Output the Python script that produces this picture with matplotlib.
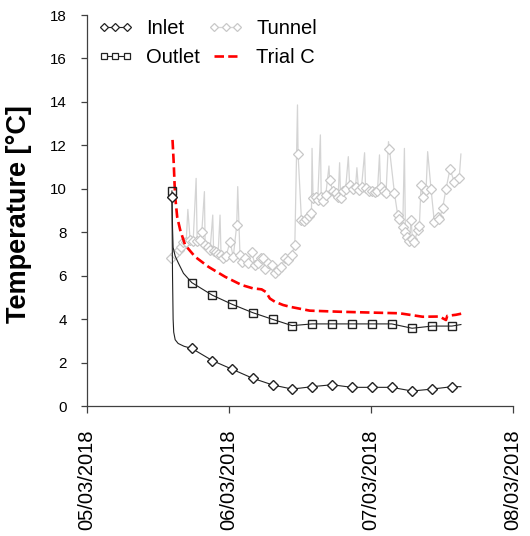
import numpy as np
import matplotlib
matplotlib.use("Agg")
import matplotlib.pyplot as plt
from matplotlib.lines import Line2D
from datetime import datetime, timedelta

plt.rcParams["font.family"] = ["Liberation Sans", "DejaVu Sans"]

START = datetime(2018, 3, 5)
x_ticks = ["05/03/2018", "06/03/2018", "07/03/2018", "08/03/2018"]

# Inlet sensor: hours after 05/03/2018 00:00 and temperature (°C)
inlet_hours = [14.35, 14.45, 14.55, 14.65, 14.9, 15.4, 16.4, 17.71, 21.19, 24.55,
               27.98, 31.37, 34.66, 38.04, 41.40, 44.76, 48.14, 51.50, 54.94,
               58.30, 61.68, 63.19]
inlet_temp = [9.6, 6.0, 4.0, 3.4, 3.05, 2.88, 2.75, 2.65, 2.09, 1.69,
              1.28, 0.97, 0.78, 0.89, 0.98, 0.86, 0.86, 0.86, 0.69,
              0.78, 0.89, 0.89]
inlet_marked = [0, 7, 8, 9, 10, 11, 12, 13, 14, 15, 16, 17, 18, 19, 20]

# Outlet sensor
outlet_hours = [14.35, 14.45, 14.55, 14.9, 15.46, 16.30, 17.71, 21.19, 24.55,
                27.98, 31.37, 34.66, 38.04, 41.40, 44.76, 48.14, 51.50, 54.94,
                58.30, 61.68, 63.19]
outlet_temp = [9.9, 8.2, 7.3, 6.9, 6.57, 6.11, 5.68, 5.10, 4.68,
               4.30, 3.99, 3.70, 3.78, 3.78, 3.78, 3.78, 3.78, 3.58,
               3.68, 3.68, 3.75]
outlet_marked = [0, 6, 7, 8, 9, 10, 11, 12, 13, 14, 15, 16, 17, 18, 19]

# Tunnel air: regular readings (marked) and short peaks between them
tunnel_hours = [14.23, 14.91, 15.46, 15.92, 16.30, 16.76, 17.43, 17.94, 18.61, 19.12,
                19.40, 19.96, 20.46, 20.80, 21.39, 21.81, 22.15, 22.65, 22.99, 23.49,
                24.17, 24.72, 25.30, 25.85, 26.19, 26.69, 27.20, 27.82, 28.38, 28.88,
                29.39, 29.78, 30.06, 30.62, 31.19, 31.75, 32.30, 32.76, 33.43, 33.94,
                34.56, 35.12, 35.67, 36.24, 36.63, 37.05, 37.47, 37.93, 38.20, 38.77,
                38.99, 39.58, 39.88, 40.34, 41.01, 41.52, 42.02, 42.44, 42.86, 43.20,
                43.71, 44.38, 44.88, 45.39, 45.89, 46.40, 47.07, 47.58, 48.08, 48.59,
                49.09, 49.60, 50.11, 50.53, 51.12, 51.96, 52.51, 52.80, 53.36, 53.81,
                54.15, 54.48, 54.77, 54.99, 55.33, 55.88, 56.17, 56.45, 56.84, 57.30,
                58.14, 58.69, 59.25, 59.54, 60.09, 60.67, 61.34, 62.06, 62.90]
tunnel_temp = [6.8, 7.0, 7.18, 7.3, 7.56, 7.55, 7.64, 7.6, 7.6, 7.64,
               8.02, 7.41, 7.3, 7.2, 7.15, 7.1, 7.0, 6.95, 6.8, 6.9,
               7.56, 6.87, 8.33, 6.95, 6.64, 6.8, 6.6, 7.1, 6.49, 6.6,
               6.8, 6.8, 6.3, 6.57, 6.5, 6.11, 6.26, 6.4, 6.8, 6.7,
               6.95, 7.41, 11.59, 8.56, 8.5, 8.6, 8.75, 8.87, 9.56, 9.64,
               9.5, 9.6, 9.45, 9.7, 10.4, 9.9, 9.8, 9.6, 9.56, 9.9,
               10.0, 10.17, 10.0, 10.1, 9.95, 10.1, 10.05, 9.9, 9.9, 9.85,
               9.9, 10.1, 9.9, 9.8, 11.82, 9.79, 8.79, 8.6, 8.26, 8.0,
               7.8, 7.6, 8.56, 7.7, 7.56, 8.1, 8.3, 10.17, 9.6, 9.94,
               9.99, 8.49, 8.72, 8.6, 9.1, 9.99, 10.9, 10.33, 10.48]
peak_hours = [17.04, 18.44, 19.84, 21.25, 22.48, 25.47, 35.57, 38.03, 39.44, 40.89,
              42.69, 44.16, 45.61, 46.91, 49.43, 50.95, 53.64, 57.57, 63.19]
peak_temp = [9.05, 10.48, 9.87, 8.79, 8.79, 10.1, 13.86, 11.86, 12.48, 11.05,
             11.2, 11.48, 10.97, 11.66, 11.56, 12.17, 11.86, 11.71, 11.6]

# Trial C model
trial_hours = [14.45, 14.65, 14.8, 14.9, 15.24, 15.75, 16.58, 18.27, 20.51, 23.33,
               26.14, 28.0, 29.51, 30.23, 30.57, 30.9, 31.75, 33.14, 34.27,
               37.64, 42.69, 48.25, 52.8, 56.72, 59.54, 60.67, 60.88, 62.35, 63.24]
trial_temp = [12.25, 11.2, 10.2, 9.64, 8.7, 8.1, 7.41, 6.87, 6.41, 5.95,
              5.57, 5.42, 5.37, 5.25, 5.1, 4.95, 4.8, 4.65, 4.57,
              4.39, 4.34, 4.30, 4.27, 4.11, 4.12, 3.96, 4.15, 4.2, 4.25]


def to_dates(hours):
    return [START + timedelta(hours=h) for h in hours]


fig = plt.figure(figsize=(5.30, 5.36), dpi=100)
ax = fig.add_axes([0.1642, 0.2425, 0.8038, 0.7295])

# Tunnel: line through every sample, markers on the regular readings
all_h = np.array(tunnel_hours + peak_hours)
all_t = np.array(tunnel_temp + peak_temp)
order = np.argsort(all_h)
gray = "#d4d4d4"
ax.plot(to_dates(all_h[order]), all_t[order], color=gray, lw=0.9, zorder=1)
ax.plot(to_dates(tunnel_hours), tunnel_temp, ls="none", marker="D", ms=4.6,
        mfc="white", mec="#c8c8c8", mew=0.9, zorder=1.5)

ax.plot(to_dates(trial_hours), trial_temp, color="#ff0000", lw=1.9,
        dashes=(3.6, 1.6), zorder=2)

ax.plot(to_dates(outlet_hours), outlet_temp, color="#222222", lw=0.8,
        marker="s", ms=6.0, mfc="none", mec="#222222", mew=1.0,
        markevery=outlet_marked, zorder=3)
ax.plot(to_dates(inlet_hours), inlet_temp, color="#222222", lw=0.8,
        marker="D", ms=4.6, mfc="white", mec="#222222", mew=1.0,
        markevery=inlet_marked, zorder=3)

ax.set_xlim(START, START + timedelta(days=3))
ax.set_ylim(0, 18)
ax.set_yticks(np.arange(0, 19, 2))
ax.set_xticks(to_dates([0, 24, 48, 72]))
ax.set_xticklabels(x_ticks, rotation=90, fontsize=14.5)
ax.tick_params(axis="y", labelsize=10.9, pad=10, length=4.5, width=0.9,
               direction="out", color="#404040")
ax.tick_params(axis="x", pad=12, length=5, width=0.9, direction="out",
               color="#404040")

for side in ("top", "right"):
    ax.spines[side].set_visible(False)
for side in ("left", "bottom"):
    ax.spines[side].set_color("#404040")
    ax.spines[side].set_linewidth(0.9)

ax.set_ylabel("Temperature [°C]", fontsize=19.5, fontweight="bold")
ax.yaxis.set_label_coords(-0.128, 0.49)

handles = [
    Line2D([], [], color="#222222", lw=0.8, marker="D", ms=4.0, mfc="white",
           mec="#222222", mew=0.9),
    Line2D([], [], color="#222222", lw=0.8, marker="s", ms=5.0, mfc="white",
           mec="#222222", mew=0.9),
    Line2D([], [], color=gray, lw=0.9, marker="D", ms=4.0, mfc="white",
           mec="#c8c8c8", mew=0.9),
    Line2D([], [], color="#ff0000", lw=1.9, dashes=(3.6, 1.6)),
]
ax.legend(handles, ["Inlet", "Outlet", "Tunnel", "Trial C"], ncol=2,
          numpoints=3, frameon=False, fontsize=14.5, loc="upper left",
          bbox_to_anchor=(0.025, 0.99), handlelength=1.75, handletextpad=0.65,
          columnspacing=0.4, labelspacing=0.5, borderpad=0, borderaxespad=0)

fig.savefig("out.png", dpi=100)
